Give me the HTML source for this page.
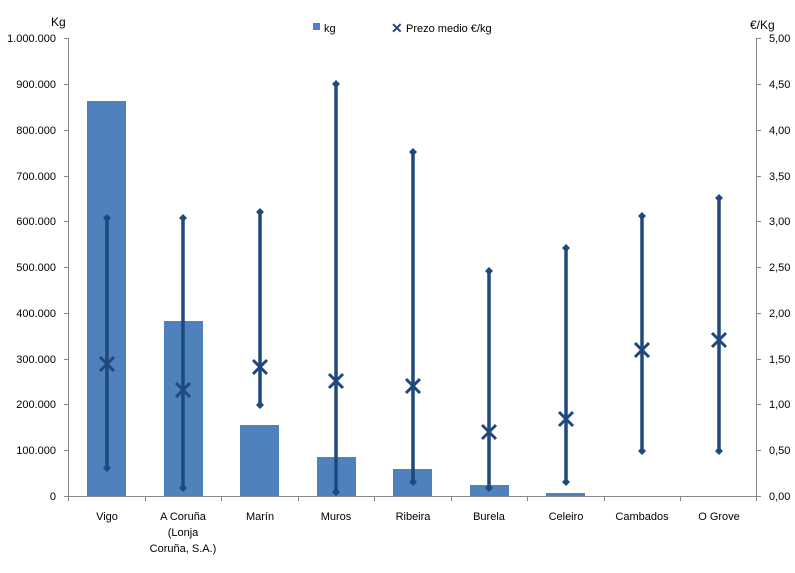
<!DOCTYPE html>
<html><head><meta charset="utf-8"><style>body{margin:0;background:#fff}svg{display:block}text{font-family:"Liberation Sans",sans-serif;font-size:11px;fill:#000}</style></head><body>
<svg width="795" height="573" viewBox="0 0 795 573">
<g stroke="#868686" stroke-width="1" fill="none">
<line x1="68.5" y1="38" x2="68.5" y2="496"/>
<line x1="756.5" y1="38" x2="756.5" y2="496"/>
<line x1="68" y1="496.5" x2="757" y2="496.5"/>
<path d="M64 38.5h4M64 84.5h4M64 130.5h4M64 176.5h4M64 221.5h4M64 267.5h4M64 313.5h4M64 359.5h4M64 404.5h4M64 450.5h4M64 496.5h4"/>
<path d="M757 38.5h4M757 84.5h4M757 130.5h4M757 176.5h4M757 221.5h4M757 267.5h4M757 313.5h4M757 359.5h4M757 404.5h4M757 450.5h4M757 496.5h4"/>
<path d="M68.5 496v5M145.5 496v5M221.5 496v5M298.5 496v5M374.5 496v5M451.5 496v5M527.5 496v5M604.5 496v5M680.5 496v5M756.5 496v5"/>
</g>
<g text-anchor="end">
<text x="56" y="42">1.000.000</text><text x="56" y="88">900.000</text><text x="56" y="134">800.000</text><text x="56" y="180">700.000</text><text x="56" y="225">600.000</text><text x="56" y="271">500.000</text><text x="56" y="317">400.000</text><text x="56" y="363">300.000</text><text x="56" y="408">200.000</text><text x="56" y="454">100.000</text><text x="56" y="500">0</text>
</g>
<g>
<text x="769" y="42">5,00</text><text x="769" y="88">4,50</text><text x="769" y="134">4,00</text><text x="769" y="180">3,50</text><text x="769" y="225">3,00</text><text x="769" y="271">2,50</text><text x="769" y="317">2,00</text><text x="769" y="363">1,50</text><text x="769" y="408">1,00</text><text x="769" y="454">0,50</text><text x="769" y="500">0,00</text>
</g>
<text x="51" y="26" style="font-size:12px">Kg</text>
<text x="750" y="29" style="font-size:12px">€/Kg</text>
<rect x="313" y="23" width="7" height="7" fill="#4f81bd"/><text x="324" y="32">kg</text>
<text x="391" y="33" style="font-size:14px;font-weight:bold;fill:#1f497d">✕</text><text x="406" y="32">Prezo medio €/kg</text>
<g fill="#4f81bd">
<rect x="87" y="101" width="39" height="395"/>
<rect x="164" y="321" width="39" height="175"/>
<rect x="240" y="425" width="39" height="71"/>
<rect x="317" y="457" width="39" height="39"/>
<rect x="393" y="469" width="39" height="27"/>
<rect x="470" y="485" width="39" height="11"/>
<rect x="546" y="493" width="39" height="3"/>
</g>
<g stroke="#1f497d" stroke-width="3.5" fill="#1f497d">
<line x1="107" y1="218" x2="107" y2="468"/>
<line x1="183" y1="218" x2="183" y2="488"/>
<line x1="260" y1="212" x2="260" y2="405"/>
<line x1="336" y1="84" x2="336" y2="492"/>
<line x1="413" y1="152" x2="413" y2="482"/>
<line x1="489" y1="271" x2="489" y2="488"/>
<line x1="566" y1="248" x2="566" y2="482"/>
<line x1="642" y1="216" x2="642" y2="451"/>
<line x1="719" y1="198" x2="719" y2="451"/>
</g>
<g fill="#1f497d">
<path d="M107 214l4 4-4 4-4-4zM107 464l4 4-4 4-4-4zM183 214l4 4-4 4-4-4zM183 484l4 4-4 4-4-4zM260 208l4 4-4 4-4-4zM260 401l4 4-4 4-4-4zM336 80l4 4-4 4-4-4zM336 488l4 4-4 4-4-4zM413 148l4 4-4 4-4-4zM413 478l4 4-4 4-4-4zM489 267l4 4-4 4-4-4zM489 484l4 4-4 4-4-4zM566 244l4 4-4 4-4-4zM566 478l4 4-4 4-4-4zM642 212l4 4-4 4-4-4zM642 447l4 4-4 4-4-4zM719 194l4 4-4 4-4-4zM719 447l4 4-4 4-4-4z"/>
</g>
<g stroke="#1f497d" stroke-width="3" fill="none">
<path d="M100 357l14 14M114 357l-14 14"/>
<path d="M176 383l14 14M190 383l-14 14"/>
<path d="M253 360l14 14M267 360l-14 14"/>
<path d="M329 374l14 14M343 374l-14 14"/>
<path d="M406 379l14 14M420 379l-14 14"/>
<path d="M482 425l14 14M496 425l-14 14"/>
<path d="M559 412l14 14M573 412l-14 14"/>
<path d="M635 343l14 14M649 343l-14 14"/>
<path d="M712 333l14 14M726 333l-14 14"/>
</g>
<g text-anchor="middle">
<text x="107" y="520">Vigo</text>
<text x="183" y="520">A Coruña</text><text x="183" y="536">(Lonja</text><text x="183" y="552">Coruña, S.A.)</text>
<text x="260" y="520">Marín</text>
<text x="336" y="520">Muros</text>
<text x="413" y="520">Ribeira</text>
<text x="489" y="520">Burela</text>
<text x="566" y="520">Celeiro</text>
<text x="642" y="520">Cambados</text>
<text x="719" y="520">O Grove</text>
</g>
</svg>
</body></html>
